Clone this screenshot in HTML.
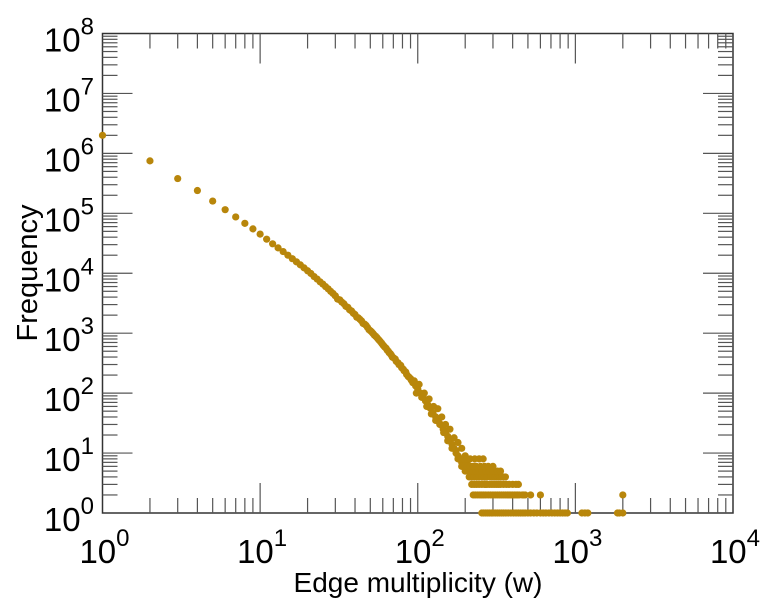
<!DOCTYPE html>
<html><head><meta charset="utf-8"><style>
html,body{margin:0;padding:0;background:#fff;}
svg{display:block;font-family:"Liberation Sans",sans-serif;}
</style></head><body>
<svg id="chart" width="764" height="600"></svg>
<script>
const xTickExps=[0,1,2,3,4];
const yTickExps=[0,1,2,3,4,5,6,7,8];
const xTitle="Edge multiplicity (w)";
const yTitle="Frequency";
const mainW=[1,2,3,4,5,6,7,8,9,10,11,12,13,14,15,16,17,18,19,20,21,22,23,24,25,26,27,28,29,30,32,34,36,38,40,42,44,46,48,50,52,54,56,58,60,62,64,66,68,70,73,76,79,82,85,88,91,94,97,100,104,108,112,116,120,125,130,135,140,145,150,155,160,165,170,175,180,185,190,195,200,210,220];
const mainF=[2000000,750000,380000,240000,160000,115000,87000,68000,55000,45000,37000,31000,26500,23000,20000,17500,15500,13800,12300,11000,9900,8800,8000,7200,6600,6000,5500,5000,4600,4200,3600,3100,2700,2350,2050,1800,1600,1420,1250,1100,990,890,800,720,640,580,520,470,430,390,340,300,265,235,205,185,165,148,132,118,100,86,74,64,56,46,40,34,30,25,22,19,16,14,12,11,9,8,7,6,6,5,4];
const scatW=[31,33,35,37,39,41,43,45,47,49,51,53,55,57,59,61,63,65,67,69,72,75,78,81,84,87,90,93,95,98,102,106,110,114,118,122,126,130,134,138,142,146,150,155,160,165,170,175,180,185,190,200,205,215,225,230,240,250,260,270];
const scatF=[3700,3300,2800,2450,2150,1850,1700,1450,1350,1150,1050,930,850,760,680,610,560,500,455,400,370,320,290,250,225,190,175,150,160,100,140,85,100,60,80,45,60,35,55,30,40,22,30,16,25,12,18,10,15,8,12,9,7,6,5,6,4,5,4,3];
const tailW1=[255,262,270,278,285,293,300,310,320,330,340,350,362,375,390,405,420,435,450,465,480,500,520,545,570,600,625,650,680,710,740,770,800,830,860,890,1100,1150,1200,1850,1900,2000];
const tailF1=tailW1.map(()=>1);
const tailW2=[225,232,240,248,255,262,270,280,290,300,310,320,330,340,350,360,370,380,390,400,410,420,430,440,460,470,480,520,600,2000];
const tailW3=[220,228,236,245,255,265,275,285,295,305,315,325,335,350,365,380,400,420,435];
const tailW4=[212,220,228,236,245,255,265,275,290,300,310,320,330,340,350,360];
const tailW5=[200,208,216,225,235,245,255,270,285,300,320,335];
const tailW6=[190,198,206,215,225,235,250,265,280,300];
const tailW8=[180,188,196,205,215,230,245,260];
</script>
<script>
const svg=document.getElementById('chart');
const NS='http://www.w3.org/2000/svg';
const L=102.5,R=733,T=33.5,B=513;
const xs=w=>L+(Math.log10(w)-0)/4*(R-L);
const ys=f=>B-(Math.log10(f)-0)/8*(B-T);
function mk(tag,attrs,parent){const e=document.createElementNS(NS,tag);for(const k in attrs)e.setAttribute(k,attrs[k]);(parent||svg).appendChild(e);return e;}
const frame=mk('rect',{x:L,y:T,width:R-L,height:B-T,fill:'none',stroke:'#333','stroke-width':1.5});


const tg=mk('g',{stroke:'#555','stroke-width':1.2});


for(let e=0;e<4;e++){for(let m=1;m<10;m++){const x=xs(m*Math.pow(10,e));const len=m===1?30:15;
 if(m!==1||e>0){mk('line',{x1:x,x2:x,y1:B,y2:B-len},tg);mk('line',{x1:x,x2:x,y1:T,y2:T+len},tg);}}}
for(let e=0;e<8;e++){for(let m=1;m<10;m++){const y=ys(m*Math.pow(10,e));const len=m===1?30:15;
 if(m!==1||e>0){mk('line',{x1:L,x2:L+len,y1:y,y2:y},tg);mk('line',{x1:R,x2:R-len,y1:y,y2:y},tg);}}}
xTickExps.forEach(e=>{const t=mk('text',{x:xs(Math.pow(10,e))+2,y:563,'font-size':33,'text-anchor':'middle',fill:'#000'});
 
 
 t.innerHTML='10<tspan dy="-17" font-size="24">'+e+'</tspan>';});
yTickExps.forEach(e=>{const t=mk('text',{x:94,y:ys(Math.pow(10,e))+18,'font-size':33,'text-anchor':'end',fill:'#000'});
 
 
 t.innerHTML='10<tspan dy="-17" font-size="24">'+e+'</tspan>';});
const xt=mk('text',{x:418,y:592,'font-size':28,'text-anchor':'middle',fill:'#000'});xt.textContent=xTitle;


const yt=mk('text',{x:0,y:0,'font-size':29,'text-anchor':'middle',fill:'#000',transform:'translate(37,273) rotate(-90)'});yt.textContent=yTitle;


const pg=mk('g',{fill:'#b8860b'});


function dots(W,F){W.forEach((w,i)=>{const c=mk('circle',{cx:xs(w),cy:ys(F[i]),r:3.6},pg);
 
 });}
dots(mainW,mainF);dots(scatW,scatF);dots(tailW1,tailF1);
dots(tailW2,tailW2.map(()=>2));dots(tailW3,tailW3.map(()=>3));dots(tailW4,tailW4.map(()=>4));dots(tailW5,tailW5.map(()=>5));
dots(tailW6,tailW6.map(()=>6));dots(tailW8,tailW8.map(()=>8));
</script>
</body></html>
